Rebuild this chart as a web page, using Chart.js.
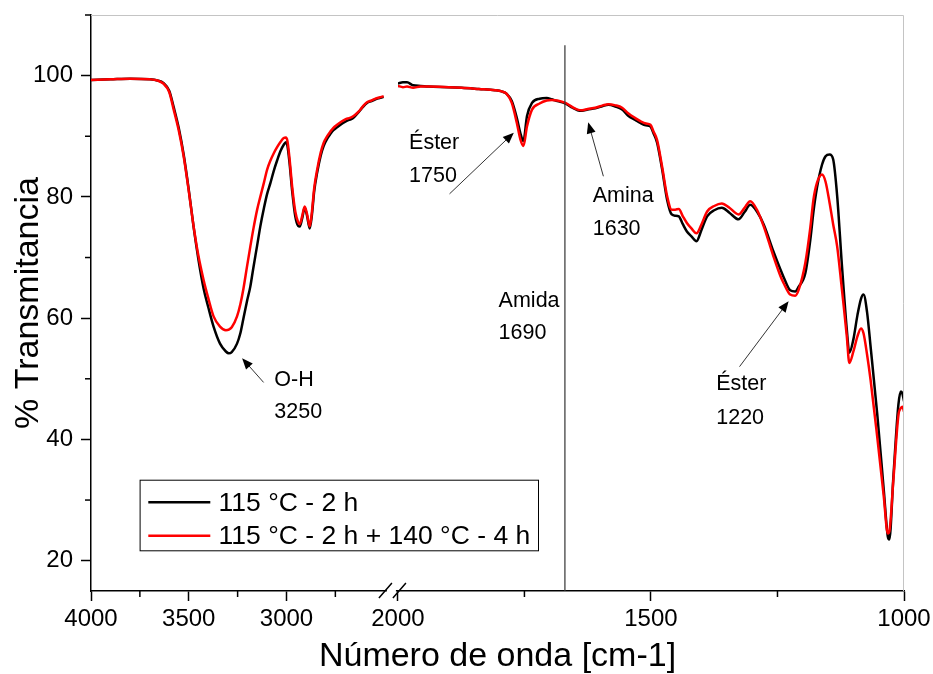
<!DOCTYPE html>
<html>
<head>
<meta charset="utf-8">
<title>FTIR - Transmitancia</title>
<script src="https://cdn.jsdelivr.net/npm/chart.js@4"></script>
<style>
html,body{margin:0;padding:0;background:#fff;}
#wrap{width:933px;height:674px;position:relative;}
</style>
</head>
<body>
<div id="wrap"><canvas id="myChart"></canvas></div>
<script>
// series names
var seriesLabels = ['115 °C - 2 h', '115 °C - 2 h + 140 °C - 4 h'];

// left part of the broken axis (4000 - 2500 cm-1)
var leftWn = [4000,3900,3800,3700,3660,3630,3600,3577,3550,3526,
  3500,3475,3450,3424,3400,3373,3340,3310,3295,3280,
  3253,3236,3220,3202,3185,3170,3150,3134,3115,3099,
  3082,3065,3048,3030,3014,3003,2995,2985,2971,2955,
  2940,2932,2920,2907,2895,2881,2870,2858,2843,2825,
  2810,2790,2775,2760,2741,2720,2699,2680,2664,2650,
  2630,2610,2588,2565,2545,2525,2503];
var leftBlack = [99.3,99.4,99.5,99.4,99.2,98.8,97.5,94.8,91.2,87.0,
  81.2,75.0,69.6,64.9,61.8,58.6,55.8,54.5,54.2,54.4,
  55.8,57.5,60.0,62.8,65.2,68.2,72.0,75.1,78.2,80.5,
  82.3,84.3,86.0,87.6,88.6,89.0,88.4,85.8,81.0,76.8,
  75.2,75.1,76.4,78.2,76.9,74.8,77.0,81.0,84.0,86.8,
  88.4,89.7,90.4,91.0,91.5,92.0,92.4,92.7,92.9,93.3,
  94.0,94.8,95.5,95.8,96.1,96.3,96.5];
var leftRed = [99.3,99.4,99.5,99.4,99.2,98.7,97.3,94.4,90.8,86.7,
  81.0,75.1,70.2,66.3,63.3,60.3,58.6,58.0,58.1,58.5,
  60.3,62.3,64.9,68.5,71.8,74.6,77.9,80.0,82.4,84.5,
  86.0,87.2,88.2,89.1,89.7,89.8,89.2,86.5,81.7,77.6,
  75.8,75.5,76.8,78.4,77.2,75.1,77.5,81.5,84.5,87.3,
  88.9,90.1,90.8,91.4,91.9,92.4,92.8,93.0,93.2,93.5,
  94.1,94.9,95.6,95.9,96.2,96.4,96.6];

// right part of the broken axis (2000 - 1000 cm-1)
var rightWn = [2000,1990,1982,1970,1955,1940,1900,1874,1840,1808,
  1795,1785,1775,1765,1758,1752,1745,1735,1720,1706,
  1696,1685,1669,1655,1645,1636,1625,1610,1595,1584,
  1570,1557,1545,1531,1521,1510,1501,1495,1488,1478,
  1468,1459,1452,1445,1437,1429,1420,1410,1400,1389,
  1375,1360,1345,1327,1315,1304,1290,1277,1258,1244,
  1238,1225,1215,1208,1195,1185,1179,1172,1162,1155,
  1147,1140,1132,1123,1119,1113,1108,1100,1092,1085,
  1080,1073,1066,1053,1040,1032,1029,1021,1011,1006,
  1003,1000];
var rightBlack = [98.7,98.9,98.9,98.4,98.3,98.2,98.1,98.0,97.8,97.6,
  97.4,97.0,95.8,93.0,90.5,89.2,93.3,95.5,96.2,96.3,
  96.1,95.8,95.4,94.7,94.3,94.2,94.4,94.6,95.0,95.2,
  94.9,94.4,93.4,92.7,92.2,91.8,91.6,90.5,89.0,84.6,
  79.5,77.1,76.9,76.8,75.5,74.3,73.5,72.7,74.6,76.8,
  77.8,78.2,77.4,76.3,77.5,78.7,77.5,75.4,71.0,68.0,
  66.8,64.6,64.4,65.2,67.4,73.0,77.5,81.5,85.3,86.7,
  87.0,86.2,80.1,69.1,64.5,58.1,54.3,56.5,60.5,63.2,
  63.9,61.0,55.3,44.3,31.7,24.0,23.5,33.8,45.8,47.9,
  47.5,46.3];
var rightRed = [98.3,98.1,98.2,98.0,98.2,98.2,98.1,98.0,97.8,97.6,
  97.4,97.0,95.5,92.2,89.5,88.4,91.6,94.4,95.4,95.9,
  96.0,95.9,95.5,94.8,94.4,94.3,94.5,94.7,95.1,95.3,
  95.1,94.7,93.8,93.0,92.5,92.1,91.9,90.8,89.4,85.0,
  80.1,77.9,77.9,78.0,76.8,75.7,74.8,74.0,75.5,77.6,
  78.5,78.9,78.2,77.1,78.2,79.3,77.8,75.1,70.2,66.9,
  65.8,63.9,63.7,64.7,69.1,75.0,79.5,82.3,83.7,82.5,
  79.0,75.5,71.8,65.0,61.9,57.0,52.6,54.5,57.0,58.3,
  57.5,54.0,49.8,40.5,30.6,24.5,24.8,33.3,44.0,45.2,
  45.4,44.6];

// axis ranges and ticks
var leftRange = [2430, 4000];
var rightRange = [1000, 2000];
var yRange = [15, 110];
var xMajorStep = 500, xMinorStep = 250;
var yMajorStep = 20, yMinorStep = 10;

// vertical marker (Amida)
var amidaWn = 1670;
var amidaSpan = [15, 105];

// band labels: text, anchor (wavenumber, %T) and arrows
var notes = [
  {axis: 'x1', text: ['O-H', '3250'], x: 3062, y: [49.8, 44.5], from: [3117, 49.4], to: [3227, 53.4]},
  {axis: 'x2', text: ['Éster', '1750'], x: 1978, y: [88.9, 83.5], from: [1898, 80.5], to: [1771, 90.6]},
  {axis: 'x2', text: ['Amina', '1630'], x: 1615, y: [80.1, 74.7], from: [1594, 83.4], to: [1624, 92.3]},
  {axis: 'x2', text: ['Amida', '1690'], x: 1801, y: [62.8, 57.5]},
  {axis: 'x2', text: ['Éster', '1220'], x: 1371, y: [49.1, 43.6], from: [1325, 52.0], to: [1228, 62.8]}
];

var FONT = '"Liberation Sans", Arial, sans-serif';
Chart.defaults.font.family = FONT;
Chart.defaults.color = '#000';

function pts(xs, ys) {
  return xs.map(function (x, i) { return {x: x, y: ys[i]}; });
}

function line(label, data, axis, color, order) {
  return {
    label: label, data: data, xAxisID: axis, yAxisID: 'y',
    borderColor: color, backgroundColor: color, borderWidth: 2.5,
    pointRadius: 0, cubicInterpolationMode: 'monotone', fill: false, order: order
  };
}

function arrow(ctx, x0, y0, x1, y1) {
  var ang = Math.atan2(y1 - y0, x1 - x0), len = 11, w = 4.5;
  ctx.beginPath();
  ctx.moveTo(x0, y0);
  ctx.lineTo(x1 - Math.cos(ang) * len * 0.8, y1 - Math.sin(ang) * len * 0.8);
  ctx.stroke();
  ctx.beginPath();
  ctx.moveTo(x1, y1);
  ctx.lineTo(x1 - Math.cos(ang) * len + Math.sin(ang) * w, y1 - Math.sin(ang) * len - Math.cos(ang) * w);
  ctx.lineTo(x1 - Math.cos(ang) * len - Math.sin(ang) * w, y1 - Math.sin(ang) * len + Math.cos(ang) * w);
  ctx.closePath();
  ctx.fill();
}

var decor = {
  id: 'decor',
  afterDraw: function (chart) {
    var ctx = chart.ctx, a = chart.chartArea;
    var ys = chart.scales.y;
    ctx.save();

    // light frame top / right
    ctx.strokeStyle = '#c4c4c4';
    ctx.lineWidth = 1;
    ctx.beginPath();
    ctx.moveTo(a.left, a.top + 0.5);
    ctx.lineTo(a.right - 0.5, a.top + 0.5);
    ctx.lineTo(a.right - 0.5, a.bottom);
    ctx.stroke();

    // minor ticks
    ctx.strokeStyle = '#000';
    ctx.lineWidth = 1.5;
    ys.ticks.forEach(function (t) {
      if (t.value % yMajorStep !== 0) {
        var p = ys.getPixelForValue(t.value);
        ctx.beginPath(); ctx.moveTo(a.left, p); ctx.lineTo(a.left - 6, p); ctx.stroke();
      }
    });
    ['x1', 'x2'].forEach(function (id) {
      var s = chart.scales[id];
      s.ticks.forEach(function (t) {
        if (t.value % xMajorStep !== 0) {
          var p = s.getPixelForValue(t.value);
          ctx.beginPath(); ctx.moveTo(p, a.bottom); ctx.lineTo(p, a.bottom + 6); ctx.stroke();
        }
      });
    });

    // axis break
    var bx = chart.scales.x2.left;
    ctx.fillStyle = '#fff';
    ctx.fillRect(bx - 11, a.bottom - 3, 9, 6);
    ctx.beginPath();
    ctx.moveTo(bx - 19, a.bottom + 7); ctx.lineTo(bx - 6, a.bottom - 8);
    ctx.moveTo(bx - 5, a.bottom + 7); ctx.lineTo(bx + 8, a.bottom - 8);
    ctx.stroke();

    // band labels
    ctx.fillStyle = '#000';
    ctx.font = '21.5px ' + FONT;
    ctx.textAlign = 'left';
    ctx.textBaseline = 'middle';
    notes.forEach(function (n) {
      var s = chart.scales[n.axis];
      var tx = s.getPixelForValue(n.x);
      n.text.forEach(function (t, i) { ctx.fillText(t, tx, ys.getPixelForValue(n.y[i])); });
      if (n.from) {
        ctx.strokeStyle = '#333';
        ctx.lineWidth = 1;
        arrow(ctx, s.getPixelForValue(n.from[0]), ys.getPixelForValue(n.from[1]),
          s.getPixelForValue(n.to[0]), ys.getPixelForValue(n.to[1]));
      }
    });

    // legend box
    var lx = a.left + 48.6, ly = a.top + 464.7, lw = 398.4, lh = 70.6;
    ctx.strokeStyle = '#000';
    ctx.lineWidth = 1;
    ctx.strokeRect(lx + 0.5, ly + 0.5, lw, lh);
    ctx.font = '26.5px ' + FONT;
    var rows = [{c: chart.data.datasets[2].borderColor, y: ly + 22.6, t: seriesLabels[0]},
                {c: chart.data.datasets[0].borderColor, y: ly + 56, t: seriesLabels[1]}];
    rows.forEach(function (r) {
      ctx.strokeStyle = r.c;
      ctx.lineWidth = 2.5;
      ctx.beginPath(); ctx.moveTo(lx + 8.7, r.y); ctx.lineTo(lx + 70.7, r.y); ctx.stroke();
      ctx.fillStyle = '#000';
      ctx.fillText(r.t, lx + 79, r.y + 1);
    });
    ctx.restore();
  }
};

var xTickCommon = {
  stepSize: xMinorStep, autoSkip: false, maxRotation: 0, includeBounds: false,
  padding: 4, font: {size: 24},
  callback: function (v) { return v % xMajorStep === 0 ? String(v) : ''; }
};
var xGrid = {
  drawOnChartArea: false, tickLength: 10, tickWidth: 1.5,
  tickColor: function (c) { return c.tick && c.tick.value % xMajorStep === 0 ? '#000' : 'rgba(0,0,0,0)'; }
};
function fitX(s) { s.height = 45; s.paddingLeft = 0; s.paddingRight = 0; }

var ctx = document.getElementById('myChart');
var chart = new Chart(ctx, {
  type: 'line',
  data: {
    datasets: [
      line(seriesLabels[1], pts(leftWn, leftRed), 'x1', '#ff0000', 1),
      line(seriesLabels[1], pts(rightWn, rightRed), 'x2', '#ff0000', 1),
      line(seriesLabels[0], pts(leftWn, leftBlack), 'x1', '#000000', 2),
      line(seriesLabels[0], pts(rightWn, rightBlack), 'x2', '#000000', 2),
      {label: 'Amida', data: [{x: amidaWn, y: amidaSpan[0]}, {x: amidaWn, y: amidaSpan[1]}],
       xAxisID: 'x2', yAxisID: 'y', borderColor: '#333', borderWidth: 1.2, pointRadius: 0, order: 0}
    ]
  },
  options: {
    responsive: true,
    maintainAspectRatio: false,
    animation: false,
    events: [],
    layout: {padding: {top: 15, right: 29, left: 0, bottom: 0}},
    plugins: {
      legend: {display: false},
      tooltip: {enabled: false},
      title: {
        display: true, position: 'bottom', fullSize: false,
        text: 'Número de onda [cm-1]', color: '#000',
        font: {size: 34, weight: 'normal', lineHeight: 1},
        padding: {top: 4, bottom: 0}
      }
    },
    scales: {
      x1: {
        type: 'linear', position: 'bottom', stack: 'xb', stackWeight: 0.3775,
        min: leftRange[0], max: leftRange[1], reverse: true, offset: false,
        ticks: xTickCommon, grid: xGrid,
        border: {color: '#000', width: 1.5},
        afterBuildTicks: function (s) { s.ticks = s.ticks.filter(function (t) { return t.value > 2600; }); },
        afterFit: fitX
      },
      x2: {
        type: 'linear', position: 'bottom', stack: 'xb', stackWeight: 0.6225,
        min: rightRange[0], max: rightRange[1], reverse: true, offset: false,
        ticks: xTickCommon, grid: xGrid,
        border: {color: '#000', width: 1.5},
        afterFit: fitX
      },
      y: {
        type: 'linear', position: 'left', min: yRange[0], max: yRange[1],
        ticks: {
          stepSize: yMinorStep, includeBounds: false, padding: 8, font: {size: 24},
          callback: function (v) { return v % yMajorStep === 0 ? String(v) : ''; }
        },
        grid: {
          drawOnChartArea: false, tickLength: 10, tickWidth: 1.5,
          tickColor: function (c) { return c.tick && c.tick.value % yMajorStep === 0 ? '#000' : 'rgba(0,0,0,0)'; }
        },
        border: {color: '#000', width: 1.5},
        title: {display: true, text: '% Transmitancia', color: '#000', font: {size: 34}, padding: {top: 8}},
        afterFit: function (s) { s.width = 91; s.paddingTop = 0; s.paddingBottom = 0; }
      }
    }
  },
  plugins: [decor]
});
</script>
</body>
</html>
